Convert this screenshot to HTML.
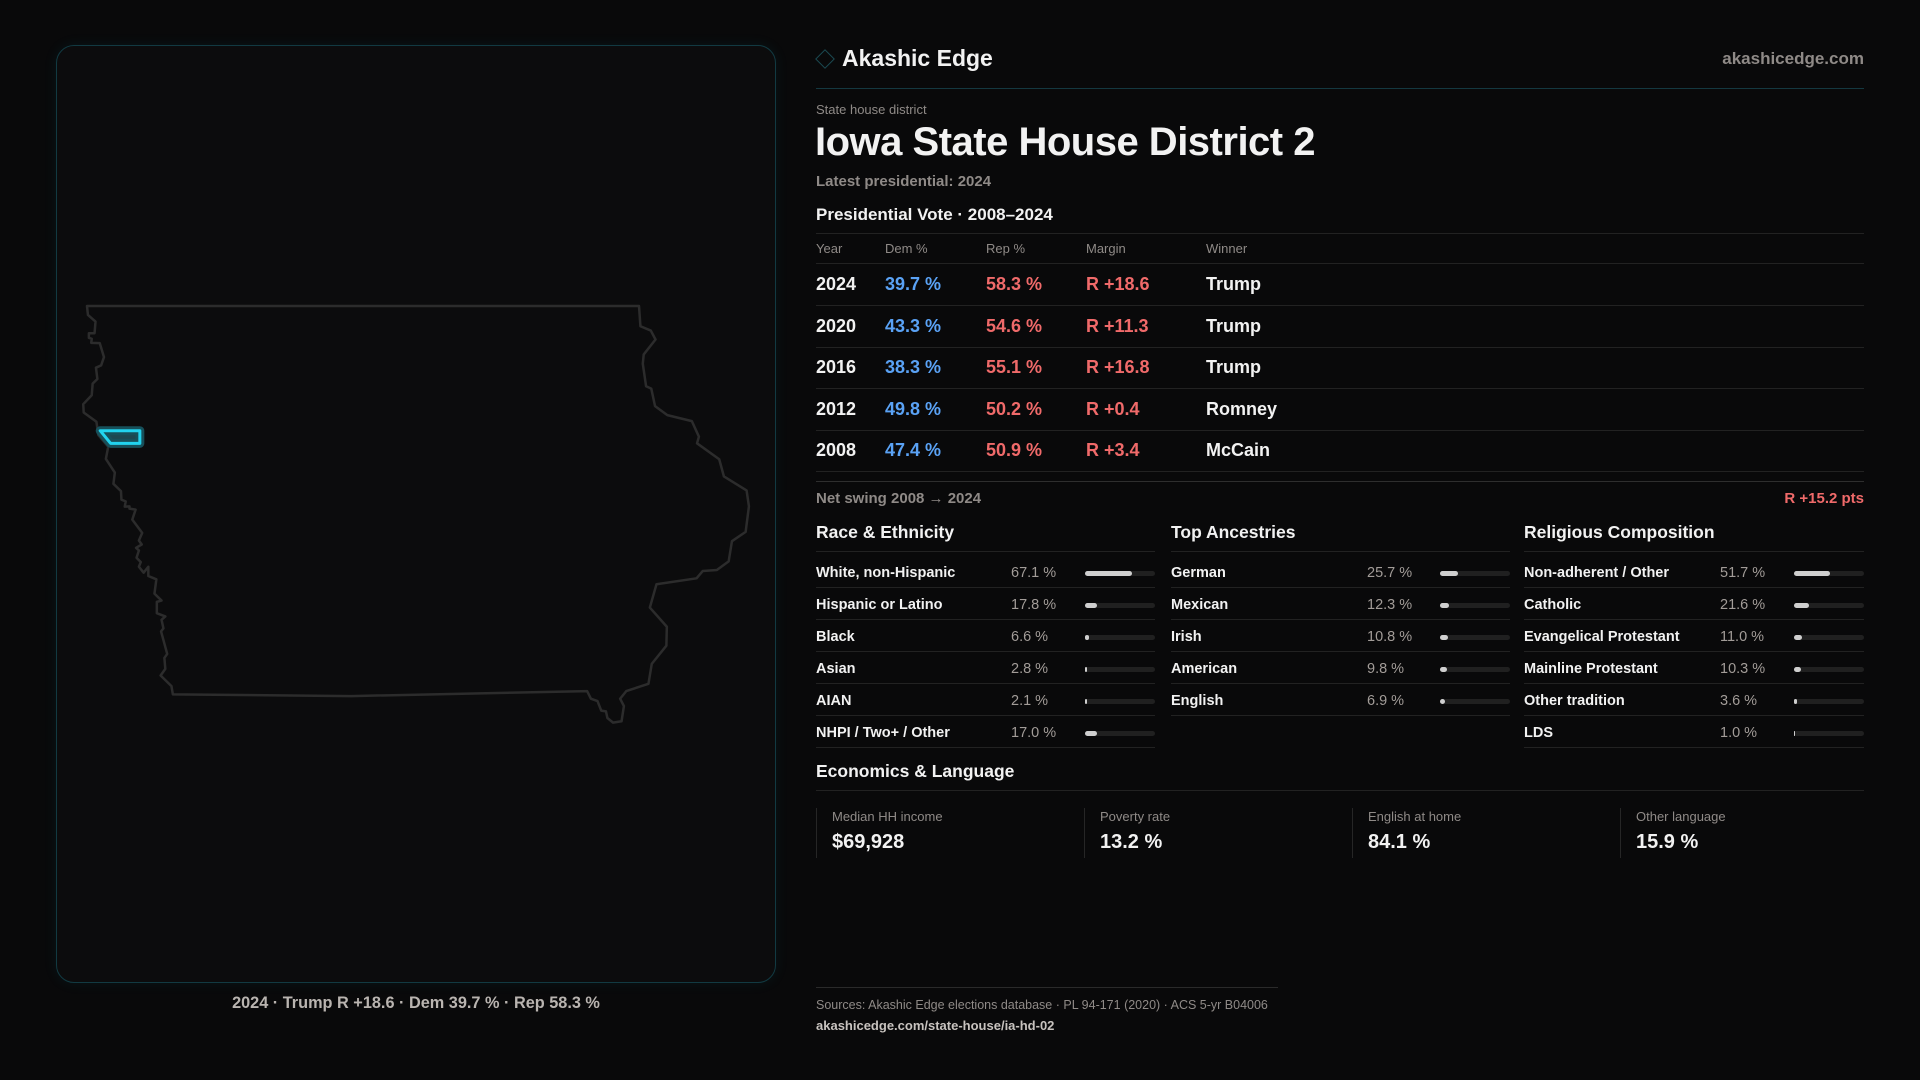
<!DOCTYPE html>
<html><head><meta charset="utf-8"><style>
*{margin:0;padding:0;box-sizing:border-box}
body{width:1920px;height:1080px;background:#09090a;font-family:"Liberation Sans",sans-serif;color:#f2f2f2;position:relative;overflow:hidden}
.a{position:absolute;white-space:nowrap}
.panel{position:absolute;left:56px;top:45px;width:720px;height:938px;border:1px solid #123a42;border-radius:18px;background:#0c0c0d;box-shadow:0 0 14px rgba(0,180,210,0.08)}
.hl{position:absolute;height:1px;background:#222}
.g{color:#8f8a87}
.row{position:absolute;left:816px;width:1048px;height:42px;border-bottom:1px solid #222;font-size:18px;font-weight:bold}
.row span{position:absolute;top:10px}
.b{color:#5aa2f5}.r{color:#f06a6a}
.dl{position:absolute;height:32px;border-bottom:1px solid #222;font-size:14.5px;font-weight:bold}
.dl .v{position:absolute;top:9px;color:#a29c98;font-weight:normal}
.dl .l{position:absolute;top:9px;left:0}
.bar{position:absolute;top:15px;height:5px;background:#202020;border-radius:3px}
.bar i{display:block;height:5px;background:#cfcfcf;border-radius:3px}
.card{position:absolute;top:808px;height:50px;border-left:1px solid #262626;padding-left:15px}
.card .t{font-size:13px;color:#8f8a87;margin-top:1px}
.card .n{font-size:20px;font-weight:bold;margin-top:7px}
</style></head><body>
<div class="panel"></div>
<svg class="a" style="left:0;top:0" width="800" height="1000">
<g transform="translate(87,306) scale(0.4718,0.3317) translate(-100,-76)">
<polygon fill="none" stroke="#2c2c2c" stroke-width="2.5" vector-effect="non-scaling-stroke" stroke-linejoin="round" points="100,76 1270,76 1273,137 1295,150 1305,177 1280,222 1278,250 1285,318 1296,325 1304,378 1330,405 1382,423 1397,470 1393,490 1440,538 1450,590 1498,632 1503,680 1496,757 1467,785 1460,846 1435,872 1405,875 1392,897 1307,915 1293,985 1329,1043 1328,1100 1297,1155 1290,1215 1243,1237 1230,1260 1238,1282 1233,1328 1215,1332 1203,1318 1200,1298 1190,1296 1182,1267 1168,1260 1160,1237 660,1252 282,1247 279,1222 256,1190 266,1170 264,1137 270,1125 257,1057 262,1048 258,1022 266,1012 248,1002 248,968 258,964 243,943 247,900 230,890 230,862 220,880 210,862 214,848 205,835 210,813 204,805 216,795 210,783 217,760 196,720 203,690 190,687 190,680 180,681 182,665 173,660 172,634 156,612 159,578 140,537 145,500 124,465 120,425 93,397 92,372 110,345 112,310 122,296 119,262 130,255 136,230 127,188 109,187 110,175 104,172 104,158 116,158 118,123 102,103"/>
<polygon fill="#1d4750" stroke="#17505a" stroke-width="9" vector-effect="non-scaling-stroke" stroke-linejoin="round" points="128,452 212,452 212,490 150,490"/>
<polygon fill="none" stroke="#22d3ee" stroke-width="3" vector-effect="non-scaling-stroke" stroke-linejoin="round" points="128,452 212,452 212,490 150,490"/>
</g></svg>
<div class="a" style="left:56px;width:720px;top:994px;text-align:center;font-size:16.3px;font-weight:bold;color:#b9b4b0">2024 · Trump R +18.6 · Dem 39.7 % · Rep 58.3 %</div>

<div class="a" style="left:818px;top:52px;width:14px;height:14px;border:1.5px solid #1b4a52;transform:rotate(45deg)"></div>
<div class="a" style="left:842px;top:45px;font-size:23px;font-weight:bold">Akashic Edge</div>
<div class="a g" style="right:56px;top:49px;font-size:17px;font-weight:bold">akashicedge.com</div>
<div class="hl" style="left:816px;width:1048px;top:88px;background:#143840"></div>
<div class="a g" style="left:816px;top:102px;font-size:13px">State house district</div>
<div class="a" style="left:815px;top:120px;font-size:40px;font-weight:bold;letter-spacing:-0.5px">Iowa State House District 2</div>
<div class="a g" style="left:816px;top:173px;font-size:15px;font-weight:bold">Latest presidential: 2024</div>
<div class="a" style="left:816px;top:205px;font-size:17px;font-weight:bold">Presidential Vote · 2008–2024</div>
<div class="hl" style="left:816px;width:1048px;top:233px"></div>
<div class="a g" style="left:816px;top:241px;font-size:13px">Year</div>
<div class="a g" style="left:885px;top:241px;font-size:13px">Dem %</div>
<div class="a g" style="left:986px;top:241px;font-size:13px">Rep %</div>
<div class="a g" style="left:1086px;top:241px;font-size:13px">Margin</div>
<div class="a g" style="left:1206px;top:241px;font-size:13px">Winner</div>
<div class="hl" style="left:816px;width:1048px;top:263px"></div>
<div class="row" style="top:264px"><span style="left:0">2024</span><span class="b" style="left:69px">39.7 %</span><span class="r" style="left:170px">58.3 %</span><span class="r" style="left:270px">R +18.6</span><span style="left:390px">Trump</span></div>
<div class="row" style="top:306px"><span style="left:0">2020</span><span class="b" style="left:69px">43.3 %</span><span class="r" style="left:170px">54.6 %</span><span class="r" style="left:270px">R +11.3</span><span style="left:390px">Trump</span></div>
<div class="row" style="top:347px"><span style="left:0">2016</span><span class="b" style="left:69px">38.3 %</span><span class="r" style="left:170px">55.1 %</span><span class="r" style="left:270px">R +16.8</span><span style="left:390px">Trump</span></div>
<div class="row" style="top:389px"><span style="left:0">2012</span><span class="b" style="left:69px">49.8 %</span><span class="r" style="left:170px">50.2 %</span><span class="r" style="left:270px">R +0.4</span><span style="left:390px">Romney</span></div>
<div class="row" style="top:430px"><span style="left:0">2008</span><span class="b" style="left:69px">47.4 %</span><span class="r" style="left:170px">50.9 %</span><span class="r" style="left:270px">R +3.4</span><span style="left:390px">McCain</span></div>
<div class="hl" style="left:816px;width:1048px;top:481px;background:#2e2e2e"></div>
<div class="a g" style="left:816px;top:490px;font-size:15px;font-weight:bold">Net swing 2008 → 2024</div>
<div class="a r" style="right:56px;top:490px;font-size:15px;font-weight:bold">R +15.2 pts</div>

<div class="a" style="left:816px;top:522px;font-size:17.5px;font-weight:bold">Race &amp; Ethnicity</div>
<div class="a" style="left:1171px;top:522px;font-size:17.5px;font-weight:bold">Top Ancestries</div>
<div class="a" style="left:1524px;top:522px;font-size:17.5px;font-weight:bold">Religious Composition</div>
<div class="hl" style="left:816px;width:339px;top:551px"></div>
<div class="hl" style="left:1171px;width:339px;top:551px"></div>
<div class="hl" style="left:1524px;width:340px;top:551px"></div>

<div class="dl" style="left:816px;width:339px;top:556px"><span class="l">White, non-Hispanic</span><span class="v" style="left:195px">67.1 %</span><div class="bar" style="left:269px;width:70px"><i style="width:47px"></i></div></div>
<div class="dl" style="left:816px;width:339px;top:588px"><span class="l">Hispanic or Latino</span><span class="v" style="left:195px">17.8 %</span><div class="bar" style="left:269px;width:70px"><i style="width:12px"></i></div></div>
<div class="dl" style="left:816px;width:339px;top:620px"><span class="l">Black</span><span class="v" style="left:195px">6.6 %</span><div class="bar" style="left:269px;width:70px"><i style="width:4px"></i></div></div>
<div class="dl" style="left:816px;width:339px;top:652px"><span class="l">Asian</span><span class="v" style="left:195px">2.8 %</span><div class="bar" style="left:269px;width:70px"><i style="width:2px"></i></div></div>
<div class="dl" style="left:816px;width:339px;top:684px"><span class="l">AIAN</span><span class="v" style="left:195px">2.1 %</span><div class="bar" style="left:269px;width:70px"><i style="width:1.5px"></i></div></div>
<div class="dl" style="left:816px;width:339px;top:716px"><span class="l">NHPI / Two+ / Other</span><span class="v" style="left:195px">17.0 %</span><div class="bar" style="left:269px;width:70px"><i style="width:12px"></i></div></div>

<div class="dl" style="left:1171px;width:339px;top:556px"><span class="l">German</span><span class="v" style="left:196px">25.7 %</span><div class="bar" style="left:269px;width:70px"><i style="width:18px"></i></div></div>
<div class="dl" style="left:1171px;width:339px;top:588px"><span class="l">Mexican</span><span class="v" style="left:196px">12.3 %</span><div class="bar" style="left:269px;width:70px"><i style="width:9px"></i></div></div>
<div class="dl" style="left:1171px;width:339px;top:620px"><span class="l">Irish</span><span class="v" style="left:196px">10.8 %</span><div class="bar" style="left:269px;width:70px"><i style="width:8px"></i></div></div>
<div class="dl" style="left:1171px;width:339px;top:652px"><span class="l">American</span><span class="v" style="left:196px">9.8 %</span><div class="bar" style="left:269px;width:70px"><i style="width:7px"></i></div></div>
<div class="dl" style="left:1171px;width:339px;top:684px"><span class="l">English</span><span class="v" style="left:196px">6.9 %</span><div class="bar" style="left:269px;width:70px"><i style="width:5px"></i></div></div>

<div class="dl" style="left:1524px;width:340px;top:556px"><span class="l">Non-adherent / Other</span><span class="v" style="left:196px">51.7 %</span><div class="bar" style="left:270px;width:70px"><i style="width:36px"></i></div></div>
<div class="dl" style="left:1524px;width:340px;top:588px"><span class="l">Catholic</span><span class="v" style="left:196px">21.6 %</span><div class="bar" style="left:270px;width:70px"><i style="width:15px"></i></div></div>
<div class="dl" style="left:1524px;width:340px;top:620px"><span class="l">Evangelical Protestant</span><span class="v" style="left:196px">11.0 %</span><div class="bar" style="left:270px;width:70px"><i style="width:8px"></i></div></div>
<div class="dl" style="left:1524px;width:340px;top:652px"><span class="l">Mainline Protestant</span><span class="v" style="left:196px">10.3 %</span><div class="bar" style="left:270px;width:70px"><i style="width:7px"></i></div></div>
<div class="dl" style="left:1524px;width:340px;top:684px"><span class="l">Other tradition</span><span class="v" style="left:196px">3.6 %</span><div class="bar" style="left:270px;width:70px"><i style="width:2.5px"></i></div></div>
<div class="dl" style="left:1524px;width:340px;top:716px"><span class="l">LDS</span><span class="v" style="left:196px">1.0 %</span><div class="bar" style="left:270px;width:70px"><i style="width:1px"></i></div></div>

<div class="a" style="left:816px;top:761px;font-size:17.5px;font-weight:bold">Economics &amp; Language</div>
<div class="hl" style="left:816px;width:1048px;top:790px"></div>
<div class="card" style="left:816px"><div class="t">Median HH income</div><div class="n">$69,928</div></div>
<div class="card" style="left:1084px"><div class="t">Poverty rate</div><div class="n">13.2 %</div></div>
<div class="card" style="left:1352px"><div class="t">English at home</div><div class="n">84.1 %</div></div>
<div class="card" style="left:1620px"><div class="t">Other language</div><div class="n">15.9 %</div></div>

<div class="hl" style="left:816px;width:462px;top:987px;background:#2a2a2a"></div>
<div class="a g" style="left:816px;top:998px;font-size:12.5px">Sources: Akashic Edge elections database · PL 94-171 (2020) · ACS 5-yr B04006</div>
<div class="a" style="left:816px;top:1018px;font-size:13px;font-weight:bold;color:#c8c3bf">akashicedge.com/state-house/ia-hd-02</div>
</body></html>
